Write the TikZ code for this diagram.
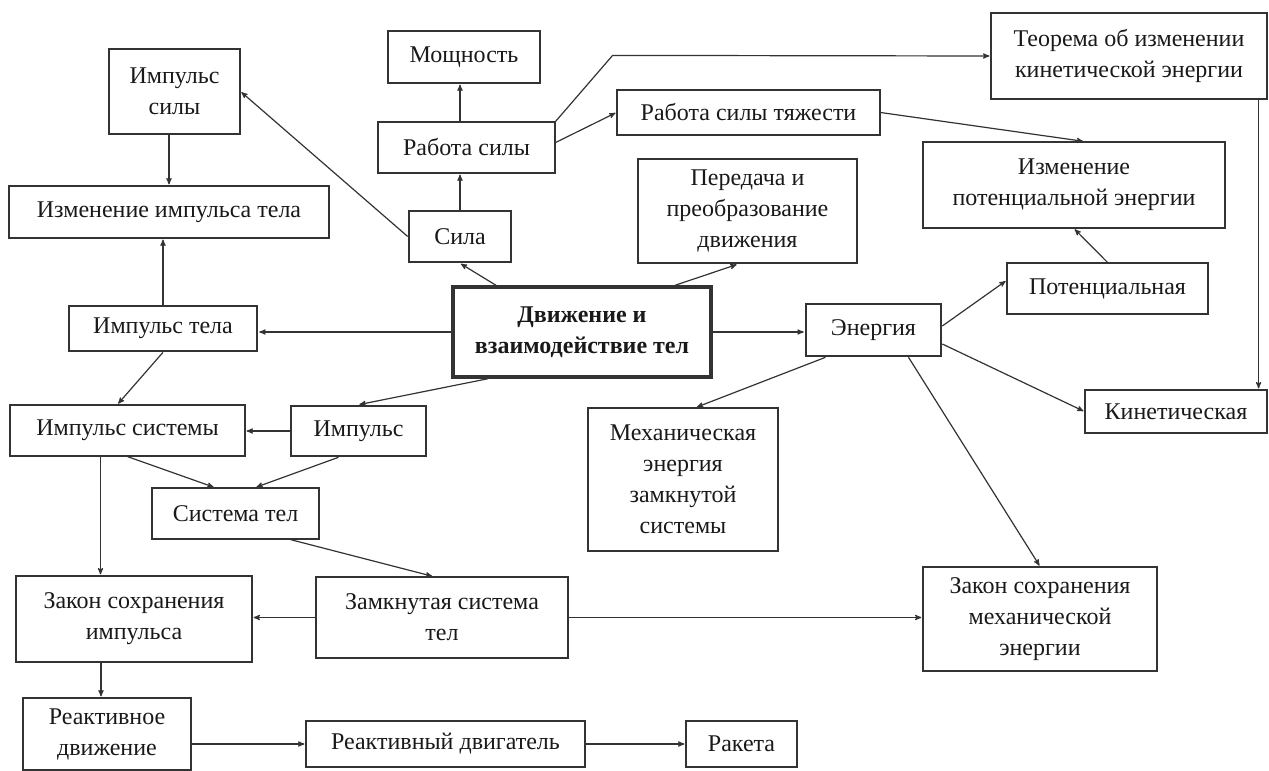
\documentclass[tikz,border=0pt]{standalone}
\usepackage{fontspec}
\setmainfont{Liberation Serif}
\usetikzlibrary{arrows}

\begin{document}
\begin{tikzpicture}[->,>=stealth',shorten >=1pt,line width=1.2pt,
                    x=1pt,y=-1pt,color=black!80,
                    box/.style={draw,rectangle,align=center,inner sep=0pt,
                      text=black!90,font=\fontsize{24}{31}\selectfont},
                    boldbox/.style={box,line width=2.6pt},
                    mainbox/.style={box,line width=3.4pt,
                      font=\fontsize{24}{31}\selectfont\bfseries}]

  \useasboundingbox (0,0) rectangle (1269,771);

  \node[mainbox,minimum width=258,minimum height=90]  (0)  at (582,332)     {Движение и\\взаимодействие тел};
  \node[boldbox,minimum width=102,minimum height=51]  (1)  at (460,236.5)   {Сила};
  \node[box,minimum width=177,minimum height=51]      (2)  at (466.5,147.5) {Работа силы};
  \node[box,minimum width=152,minimum height=52]      (3)  at (464,57)      {Мощность};
  \node[box,minimum width=131,minimum height=85]      (4)  at (174.5,91.5)  {Импульс\\силы};
  \node[box,minimum width=320,minimum height=52]      (5)  at (169,212)     {Изменение импульса тела};
  \node[boldbox,minimum width=188,minimum height=45]  (6)  at (163,328.5)   {Импульс тела};
  \node[boldbox,minimum width=135,minimum height=50]  (7)  at (358.5,431)   {Импульс};
  \node[box,minimum width=235,minimum height=51]      (8)  at (127.5,430.5) {Импульс системы};
  \node[box,minimum width=167,minimum height=51]      (9)  at (235.5,513.5) {Система тел};
  \node[box,minimum width=252,minimum height=81]      (10) at (442,617.5)   {Замкнутая система\\тел};
  \node[box,minimum width=236,minimum height=86]      (11) at (134,619)     {Закон сохранения\\импульса};
  \node[box,minimum width=168,minimum height=72]      (12) at (107,734)     {Реактивное\\движение};
  \node[box,minimum width=279,minimum height=46]      (13) at (445.5,744)   {Реактивный двигатель};
  \node[box,minimum width=111,minimum height=46]      (14) at (741.5,744)   {Ракета};
  \node[boldbox,minimum width=219,minimum height=104] (15) at (747.5,211)   {Передача и\\преобразование\\движения};
  \node[box,minimum width=263,minimum height=45]      (16) at (748.5,112.5) {Работа силы тяжести};
  \node[box,minimum width=276,minimum height=86]      (17) at (1129,56)     {Теорема об изменении\\кинетической энергии};
  \node[boldbox,minimum width=135,minimum height=52]  (18) at (873.5,330)   {Энергия};
  \node[box,minimum width=201,minimum height=51]      (19) at (1107.5,288.5) {Потенциальная};
  \node[box,minimum width=302,minimum height=86]      (20) at (1074,185)    {Изменение\\потенциальной энергии};
  \node[box,minimum width=182,minimum height=43]      (21) at (1176,411.5)  {Кинетическая};
  \node[box,minimum width=190,minimum height=143]     (22) at (683,479.5)   {Механическая\\энергия\\замкнутой\\системы};
  \node[box,minimum width=234,minimum height=104]     (23) at (1040,619)    {Закон сохранения\\механической\\энергии};

  \path ([xshift=-86pt]0.north) edge (1.south)
        ([xshift=93pt]0.north)  edge ([xshift=-10pt]15.south)
        (0.west)                edge (0.west -| 6.east)
        (0.east)                edge (0.east -| 18.west)
        ([xshift=-94pt]0.south) edge (7.north)
        (1.north)               edge (2.south -| 1.north)
        (2.north -| 1.north)    edge (3.south -| 1.north)
        (1.west)                edge (4.east)
        (4.south -| 5.north)    edge (5.north)
        (6.north)               edge (6.north |- 5.south)
        ([yshift=5pt]2.east)    edge (16.west)
        (16.east)               edge ([xshift=10pt]20.north)
        (19.north)              edge (20.south)
        ([yshift=4pt]18.east)   edge ([yshift=8pt]19.west)
        ([yshift=-14pt]18.east) edge (21.west)
        ([xshift=-48pt]18.south) edge ([xshift=13pt]22.north)
        ([xshift=35pt]18.south) edge (23.north)
        ([xshift=-9pt]17.south east) edge ([xshift=-9pt]17.south east |- 21.north)
        (6.south)               edge ([xshift=-10pt]8.north)
        (7.west)                edge (7.west -| 8.east)
        (8.south)               edge ([xshift=-21pt]9.north)
        ([xshift=-20pt]7.south) edge ([xshift=20pt]9.north)
        ([xshift=-27pt]8.south) edge ([xshift=-27pt]8.south |- 11.north)
        ([xshift=55pt]9.south)  edge ([xshift=-9pt]10.north)
        (10.west)               edge (10.west -| 11.east)
        (10.east)               edge (10.east -| 23.west)
        ([xshift=-33pt]11.south) edge ([xshift=-33pt]11.south |- 12.north)
        (12.east |- 13.west)    edge (13.west)
        (13.east)               edge (14.west);

  \draw (2.north east) -- ++(57,-66) -- (17.west);
\end{tikzpicture}
\end{document}
